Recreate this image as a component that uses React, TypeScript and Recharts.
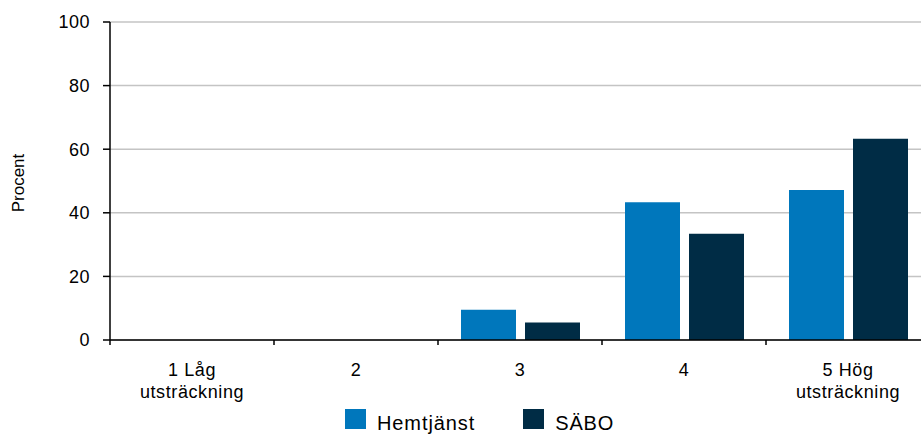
import { BarChart, Bar, XAxis, YAxis, CartesianGrid, Legend, Label } from "recharts";

const categories = ["1 Låg\nutsträckning", "2", "3", "4", "5 Hög\nutsträckning"];
const hemtjanst = [0, 0, 9.5, 43.3, 47.2];
const sabo = [0, 0, 5.5, 33.4, 63.3];
const yTicks = [0, 20, 40, 60, 80, 100];

const data = categories.map((c, i) => ({ cat: c, hemtjanst: hemtjanst[i], sabo: sabo[i] }));

const W = 921;
const H = 435;
const LEFT = 110;
const RIGHT_OVER = 9; // plot area runs a little past the right edge
const BAND = (W + RIGHT_OVER - LEFT) / categories.length;
const FONT = "'Liberation Sans', Arial, sans-serif";

function CatTick(props: any) {
	const { x, y, payload } = props;
	const lines = String(payload.value).split("\n");
	return (
		<g>
			<line x1={x - BAND / 2} x2={x - BAND / 2} y1={y - 8} y2={y - 3} stroke="#000" strokeWidth={1.5} />
			<text x={x} y={y + 28} textAnchor="middle" fontSize={18} letterSpacing={0.6} fill="#000" fontFamily={FONT}>
				{lines.map((l, i) => (
					<tspan key={i} x={x} dy={i === 0 ? 0 : 22}>
						{l}
					</tspan>
				))}
			</text>
		</g>
	);
}

function LegendContent() {
	const items = [
		{ name: "Hemtjänst", color: "#0077BC" },
		{ name: "SÄBO", color: "#002C45" },
	];
	return (
		<div style={{ display: "flex", paddingLeft: 345, fontFamily: FONT, fontSize: 20, letterSpacing: 0.9, height: 35 }}>
			{items.map((it) => (
				<div key={it.name} style={{ display: "flex", alignItems: "flex-start", marginRight: 48 }}>
					<span style={{ width: 21, height: 20, background: it.color, display: "inline-block", marginTop: 9, marginRight: 11 }} />
					<span style={{ marginTop: 13, lineHeight: "20px", color: "#000" }}>{it.name}</span>
				</div>
			))}
		</div>
	);
}

export default function App() {
	return (
		<div style={{ position: "absolute", left: 0, top: 0, width: W, height: H, background: "#fff", overflow: "hidden" }}>
			<BarChart width={W} height={H} data={data} margin={{ top: 22, right: -RIGHT_OVER, left: 0, bottom: 0 }} barSize={55} barGap={9}>
				<CartesianGrid vertical={false} stroke="#c4c4c4" strokeWidth={1.5} />
				<XAxis
					dataKey="cat"
					height={60}
					tick={<CatTick />}
					tickLine={false}
					axisLine={{ stroke: "#000", strokeWidth: 1.5 }}
					interval={0}
				/>
				<YAxis
					width={LEFT}
					domain={[0, 100]}
					ticks={yTicks}
					interval={0}
					tick={{ fill: "#000", fontSize: 18, fontFamily: FONT, letterSpacing: 0.5 }}
					tickLine={{ stroke: "#000", strokeWidth: 1.5 }}
					tickSize={7}
					tickMargin={13}
					axisLine={{ stroke: "#000", strokeWidth: 1.5 }}
				>
					<Label value="Procent" angle={-90} position="insideLeft" dx={13} dy={2} style={{ fill: "#000", fontSize: 17, fontFamily: FONT, textAnchor: "middle" }} />
				</YAxis>
				<Legend verticalAlign="bottom" align="left" height={35} content={<LegendContent />} wrapperStyle={{ left: 0, bottom: 0, width: W }} />
				<Bar dataKey="hemtjanst" name="Hemtjänst" fill="#0077BC" isAnimationActive={false} />
				<Bar dataKey="sabo" name="SÄBO" fill="#002C45" isAnimationActive={false} />
			</BarChart>
		</div>
	);
}
